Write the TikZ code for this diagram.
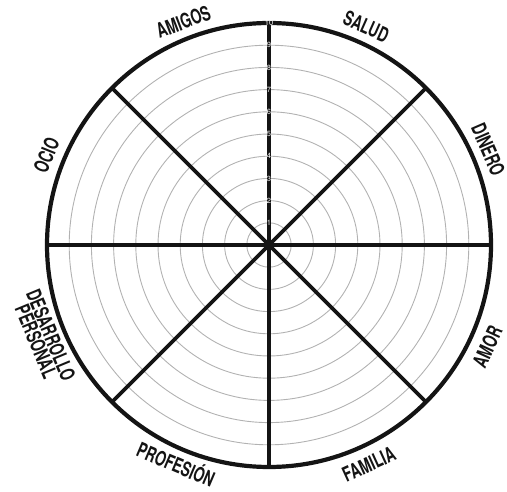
\documentclass[tikz,border=0pt]{standalone}
\usepackage{fontspec}
\setmainfont{TeX Gyre Heros}
\usetikzlibrary{positioning}
\definecolor{ringgray}{RGB}{178,178,178}
\definecolor{wheelblack}{RGB}{20,20,20}
\newlength{\wheelr}
\setlength{\wheelr}{222pt}

\begin{document}
\begin{tikzpicture}[x=1pt,y=1pt,
    area/.style={font=\fontsize{20.5}{16}\selectfont\bfseries, text=wheelblack, inner sep=0pt, align=center},
    ringnum/.style={font=\fontsize{7.5}{7.5}\selectfont, text=white, inner sep=0pt}]
  \useasboundingbox (0,0) rectangle (507,491);
  \coordinate (c) at (269,246);
  % rings
  \foreach \k in {1,...,9}
    \draw[ringgray, line width=0.9pt] (c) circle[radius=\k*22.2];
  % spokes and rim
  \foreach \a in {0,45,...,315}
    \draw[wheelblack, line width=3.6pt] (c) -- ++(\a:\wheelr);
  \draw[wheelblack, line width=4.2pt] (c) circle[radius=\wheelr];
  % scale on the upper spoke
  \foreach \k in {1,...,10}
    \node[ringnum] (num\k) at ([yshift=\k*22.2]c) {\k};
  % areas
  \node[area, rotate=21, xscale=0.68] (amigos) at ([shift={(111:239)}]c) {AMIGOS};
  \node[area, rotate=-24, xscale=0.68] (salud) at ([shift={(66:239)}]c) {SALUD};
  \node[area, rotate=-66.5, xscale=0.68] (dinero) at ([shift={(23.5:239)}]c) {DINERO};
  \node[area, rotate=68, xscale=0.68] (ocio) at ([shift={(158:240)}]c) {OCIO};
  \node[area, rotate=65, xscale=0.68] (amor) at ([shift={(-25:241)}]c) {AMOR};
  \node[area, rotate=24.5, xscale=0.68] (familia) at ([shift={(-65.5:241)}]c) {FAMILIA};
  \node[area, rotate=-23, xscale=0.68] (profesion) at ([shift={(-113:237)}]c) {PROFESIÓN};
  \node[area, rotate=-67.5, xscale=0.68] (desarrollo) at ([shift={(-157.5:244)}]c) {DESARROLLO\\PERSONAL};
\end{tikzpicture}
\end{document}
